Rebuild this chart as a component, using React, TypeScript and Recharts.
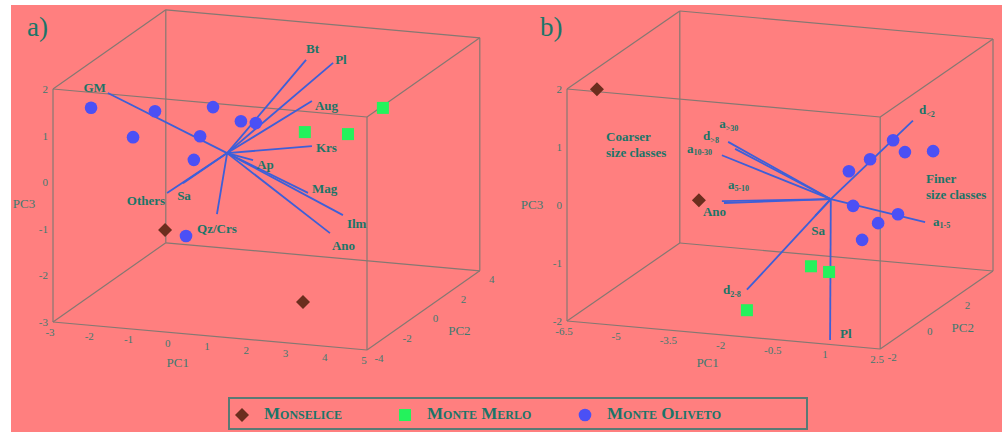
import React from 'react';
import { ScatterChart, Scatter, XAxis, YAxis, ReferenceLine } from 'recharts';

type P3 = { pc1: number; pc2: number; pc3: number };
type Loading = P3 & { name: string; sub?: string };

// a) mineralogical PCA
const monseliceA: P3[] = [
    { pc1: -2.66, pc2: 3, pc3: -2.49 },
    { pc1: 3.01, pc2: -3, pc3: -2.33 },
];
const merloA: P3[] = [
    { pc1: 2.89, pc2: 3, pc3: 0.55 },
    { pc1: 1.62, pc2: 1, pc3: 0.36 },
    { pc1: 2.36, pc2: 2, pc3: 0.16 },
];
const olivetoA: P3[] = [
    { pc1: -2.39, pc2: -3, pc3: 1.43 },
    { pc1: -1.12, pc2: -2, pc3: 1.24 },
    { pc1: -0.36, pc2: 0, pc3: 0.96 },
    { pc1: 0.71, pc2: -1, pc3: 0.95 },
    { pc1: 1.09, pc2: -1, pc3: 0.94 },
    { pc1: -1.32, pc2: -3, pc3: 0.88 },
    { pc1: -0.33, pc2: -1, pc3: 0.55 },
    { pc1: -0.13, pc2: -2, pc3: 0.27 },
    { pc1: -0.33, pc2: -2, pc3: -1.38 },
];
const loadingsA: Loading[] = [
    { name: 'GM', pc1: -3.04, pc2: 0, pc3: 1.06 },
    { name: 'Bt', pc1: 2.01, pc2: 0, pc3: 2.15 },
    { name: 'Pl', pc1: 2.7, pc2: 0, pc3: 2.14 },
    { name: 'Aug', pc1: 2.16, pc2: 0, pc3: 1.28 },
    { name: 'Krs', pc1: 2.16, pc2: 0, pc3: 0.31 },
    { name: 'Ap', pc1: 0.66, pc2: 0, pc3: -0.1 },
    { name: 'Mag', pc1: 2.06, pc2: 0, pc3: -0.7 },
    { name: 'Ilm', pc1: 2.95, pc2: 0, pc3: -1.11 },
    { name: 'Ano', pc1: 2.62, pc2: 0, pc3: -1.52 },
    { name: 'Qz/Crs', pc1: -0.26, pc2: 0, pc3: -1.33 },
    { name: 'Others', pc1: -1.53, pc2: 0, pc3: -0.97 },
    { name: 'Sa', pc1: -1.125, pc2: 0, pc3: -0.73 },
];
const rangeA = { pc1: [-3, 5], pc2: [-4, 4], pc3: [-3, 2] };
const pc1TicksA = [-3, -2, -1, 0, 1, 2, 3, 4, 5];
const pc2TicksA = [-4, -2, 0, 2, 4];
const pc3TicksA = [-3, -2, -1, 0, 1, 2];

// b) grain size PCA
const monseliceB: P3[] = [
    { pc1: -6.18, pc2: -1, pc3: 1.79 },
    { pc1: -3.79, pc2: 0, pc3: -0.22 },
];
const merloB: P3[] = [
    { pc1: -1.11, pc2: 1, pc3: -1.44 },
    { pc1: -0.59, pc2: 1, pc3: -1.51 },
    { pc1: -1.87, pc2: -1, pc3: -1.79 },
];
const olivetoB: P3[] = [
    { pc1: 1.25, pc2: 1, pc3: 0.86 },
    { pc1: 1.05, pc2: 2, pc3: 0.42 },
    { pc1: 1.86, pc2: 2, pc3: 0.48 },
    { pc1: 1.13, pc2: 0, pc3: 0.75 },
    { pc1: 0.52, pc2: 0, pc3: 0.51 },
    { pc1: 0.64, pc2: 0, pc3: -0.08 },
    { pc1: 1.39, pc2: 1, pc3: -0.41 },
    { pc1: 1.36, pc2: 0, pc3: -0.34 },
    { pc1: 1.44, pc2: -1, pc3: -0.4 },
];
const loadingsB: Loading[] = [
    { name: 'd', sub: '<2', pc1: 2.36, pc2: 0, pc3: 1.48 },
    { name: 'a', sub: '>30', pc1: -2.95, pc2: 0, pc3: 0.83 },
    { name: 'd', sub: '>8', pc1: -2.75, pc2: 0, pc3: 0.72 },
    { name: 'a', sub: '10-30', pc1: -3.13, pc2: 0, pc3: 0.59 },
    { name: 'a', sub: '5-10', pc1: -3.13, pc2: 0, pc3: -0.2 },
    { name: 'Ano', pc1: -3.07, pc2: 0, pc3: -0.23 },
    { name: 'a', sub: '1-5', pc1: 2.71, pc2: 0, pc3: -0.25 },
    { name: 'Sa', pc1: -0.45, pc2: 0, pc3: -0.31 },
    { name: 'd', sub: '2-8', pc1: -2.41, pc2: 0, pc3: -1.69 },
    { name: 'Pl', pc1: -0.02, pc2: 0, pc3: -2.43 },
];
const rangeB = { pc1: [-6.5, 2.5], pc2: [-2, 4], pc3: [-2, 2] };
const pc1TicksB = [-6.5, -5, -3.5, -2, -0.5, 1, 2.5];
const pc2TicksB = [-2, 0, 2];
const pc3TicksB = [-2, -1, 0, 1, 2];

// colours
const BG = '#ff7f7f';
const TEAL = '#1b7568';
const TICK = '#3f7a70';
const EDGE = '#857872';
const VECTOR = '#3d5fd8';
const BROWN = '#6b2e1e';
const GREEN = '#24f25c';
const BLUE = '#4b50f5';
const SERIF = '"Liberation Serif", "Times New Roman", serif';

type View = {
    left: number;
    width: number;
    height: number;
    ox: number;
    oy: number;
    e1: [number, number];
    e2: [number, number];
    e3: [number, number];
};

// oblique projection of the 3d box (px per unit along each PC)
const viewA: View = { left: 0, width: 500, height: 432, ox: 227.15, oy: 153.1, e1: [39.25, 3.5], e2: [14.1, -9.9], e3: [0, -46.6] };
const viewB: View = { left: 500, width: 502, height: 432, ox: 330.8, oy: 199.2, e1: [34.8, 3.11], e2: [18.8, -13], e3: [0, -58] };

// label placement, px from the end of each loading vector
const labelPosA: Record<string, [number, number, string]> = {
    GM: [-2, -6, 'end'],
    Bt: [0, -11, 'start'],
    Pl: [2, -3, 'start'],
    Aug: [3, 4, 'start'],
    Krs: [4, 1, 'start'],
    Ap: [4, 4, 'start'],
    Mag: [4, -4, 'start'],
    Ilm: [4, 8, 'start'],
    Ano: [2, 12, 'start'],
    'Qz/Crs': [0, 14, 'middle'],
    Others: [-2, 8, 'end'],
    Sa: [1, 12, 'middle'],
};
const labelPosB: Record<string, [number, number, string]> = {
    'd<2': [6, -11, 'start'],
    'a>30': [-9, -18, 'start'],
    'd>8': [-32, -13, 'start'],
    'a10-30': [-35, -7, 'start'],
    'a5-10': [6, -17, 'start'],
    Ano: [-21, 9, 'start'],
    'a1-5': [8, -1, 'start'],
    Sa: [3, 15, 'middle'],
    'd2-8': [-24, 0, 'start'],
    Pl: [10, -7, 'start'],
};

const project = (v: View, p: P3) => ({
    x: p.pc1 * v.e1[0] + p.pc2 * v.e2[0] + p.pc3 * v.e3[0],
    y: -(p.pc1 * v.e1[1] + p.pc2 * v.e2[1] + p.pc3 * v.e3[1]),
});

const boxEdges = (r: typeof rangeA) => {
    const edges: [P3, P3][] = [];
    const c = (i: number, j: number, k: number): P3 => ({ pc1: r.pc1[i], pc2: r.pc2[j], pc3: r.pc3[k] });
    for (const a of [0, 1]) {
        for (const b of [0, 1]) {
            edges.push([c(0, a, b), c(1, a, b)]);
            edges.push([c(a, 0, b), c(a, 1, b)]);
            edges.push([c(a, b, 0), c(a, b, 1)]);
        }
    }
    return edges;
};

const TextMark = (props: any) => {
    const { cx, cy, payload } = props;
    if (cx == null) return <g />;
    return (
        <text
            x={cx + payload.dx}
            y={cy + payload.dy}
            textAnchor={payload.anchor}
            dominantBaseline="central"
            fontFamily={SERIF}
            fontSize={payload.size}
            fontWeight={payload.bold ? 700 : 400}
            fill={payload.color}
        >
            {payload.text}
            {payload.sub ? (
                <tspan fontSize={8} dy={4}>{payload.sub}</tspan>
            ) : null}
        </text>
    );
};

const Circle = (props: any) => <circle cx={props.cx} cy={props.cy} r={6.3} fill={BLUE} />;
const Square = (props: any) => <rect x={props.cx - 6} y={props.cy - 6} width={12} height={12} fill={GREEN} />;
const Diamond = (props: any) => (
    <polygon
        points={`${props.cx},${props.cy - 7} ${props.cx + 7},${props.cy} ${props.cx},${props.cy + 7} ${props.cx - 7},${props.cy}`}
        fill={BROWN}
    />
);

interface PanelProps {
    view: View;
    range: typeof rangeA;
    monselice: P3[];
    merlo: P3[];
    oliveto: P3[];
    loadings: Loading[];
    labelPos: Record<string, [number, number, string]>;
    ticks: [number[], number[], number[]];
    titles: { at: P3; dx: number; dy: number }[];
}

const Panel: React.FC<PanelProps> = ({ view, range, monselice, merlo, oliveto, loadings, labelPos, ticks, titles }) => {
    const pr = (p: P3) => project(view, p);
    const origin = pr({ pc1: 0, pc2: 0, pc3: 0 });

    const tickText = [
        ...ticks[0].map(t => ({ ...pr({ pc1: t, pc2: range.pc2[0], pc3: range.pc3[0] }), text: String(t), dx: -3, dy: 10, anchor: 'middle', size: 11, color: TICK })),
        ...ticks[1].map(t => ({ ...pr({ pc1: range.pc1[1], pc2: t, pc3: range.pc3[0] }), text: String(t), dx: 12, dy: 8, anchor: 'middle', size: 11, color: TICK })),
        ...ticks[2].map(t => ({ ...pr({ pc1: range.pc1[0], pc2: range.pc2[0], pc3: t }), text: String(t), dx: -5, dy: 0, anchor: 'end', size: 11, color: TICK })),
        ...['PC1', 'PC2', 'PC3'].map((name, i) => ({ ...pr(titles[i].at), text: name, dx: titles[i].dx, dy: titles[i].dy, anchor: 'middle', size: 13, color: TICK })),
    ];

    const loadingText = loadings.map(l => {
        const key = l.name + (l.sub ?? '');
        const [dx, dy, anchor] = labelPos[key];
        return { ...pr(l), text: l.name, sub: l.sub, dx, dy, anchor, size: 13, bold: true, color: TEAL };
    });

    return (
        <div style={{ position: 'absolute', left: view.left, top: 0 }}>
            <ScatterChart width={view.width} height={view.height} margin={{ top: 0, right: 0, bottom: 0, left: 0 }}>
                <XAxis type="number" dataKey="x" domain={[-view.ox, view.width - view.ox]} allowDataOverflow hide />
                <YAxis type="number" dataKey="y" domain={[view.oy - view.height, view.oy]} allowDataOverflow hide />
                {boxEdges(range).map(([a, b], i) => (
                    <ReferenceLine key={'e' + i} segment={[pr(a), pr(b)]} stroke={EDGE} strokeWidth={1.2} ifOverflow="visible" />
                ))}
                {loadings.map((l, i) => (
                    <ReferenceLine key={'l' + i} segment={[origin, pr(l)]} stroke={VECTOR} strokeWidth={1.8} ifOverflow="visible" />
                ))}
                <Scatter data={monselice.map(pr)} shape={Diamond} isAnimationActive={false} />
                <Scatter data={merlo.map(pr)} shape={Square} isAnimationActive={false} />
                <Scatter data={oliveto.map(pr)} shape={Circle} isAnimationActive={false} />
                <Scatter data={tickText} shape={TextMark} isAnimationActive={false} />
                <Scatter data={loadingText} shape={TextMark} isAnimationActive={false} />
            </ScatterChart>
        </div>
    );
};

const LegendItem: React.FC<{ x: number; icon: React.ReactNode; label: string }> = ({ x, icon, label }) => (
    <>
        <svg style={{ position: 'absolute', left: x - 8, top: 8 }} width={16} height={16}>{icon}</svg>
        <span style={{ position: 'absolute', left: x + 22, top: 5, lineHeight: '20px', whiteSpace: 'nowrap' }}>{label}</span>
    </>
);

export default function App() {
    const bold13: React.CSSProperties = { position: 'absolute', fontFamily: SERIF, fontWeight: 700, fontSize: 13, lineHeight: '16px', color: TEAL };
    return (
        <div style={{ position: 'absolute', left: 0, top: 0, width: 1002, height: 432, background: '#fff', overflow: 'hidden' }}>
            <div style={{ position: 'absolute', left: 11, top: 5, right: 0, bottom: 0, background: BG }} />
            <Panel
                view={viewA}
                range={rangeA}
                monselice={monseliceA}
                merlo={merloA}
                oliveto={olivetoA}
                loadings={loadingsA}
                labelPos={labelPosA}
                ticks={[pc1TicksA, pc2TicksA, pc3TicksA]}
                titles={[
                    { at: { pc1: 0, pc2: -4, pc3: -3 }, dx: 7, dy: 30 },
                    { at: { pc1: 5, pc2: 0, pc3: -3 }, dx: 36, dy: 20 },
                    { at: { pc1: -3, pc2: -4, pc3: -0.5 }, dx: -29, dy: -2 },
                ]}
            />
            <Panel
                view={viewB}
                range={rangeB}
                monselice={monseliceB}
                merlo={merloB}
                oliveto={olivetoB}
                loadings={loadingsB}
                labelPos={labelPosB}
                ticks={[pc1TicksB, pc2TicksB, pc3TicksB]}
                titles={[
                    { at: { pc1: -2, pc2: -2, pc3: -2 }, dx: -16, dy: 28 },
                    { at: { pc1: 2.5, pc2: 0, pc3: -2 }, dx: 45, dy: 5 },
                    { at: { pc1: -6.5, pc2: -2, pc3: 0 }, dx: -35, dy: 0 },
                ]}
            />
            <div style={{ position: 'absolute', left: 27, top: 14, fontFamily: SERIF, fontSize: 27, lineHeight: '27px', color: TEAL }}>a)</div>
            <div style={{ position: 'absolute', left: 540, top: 14, fontFamily: SERIF, fontSize: 27, lineHeight: '27px', color: TEAL }}>b)</div>
            <div style={{ ...bold13, left: 606, top: 129 }}>Coarser<br />size classes</div>
            <div style={{ ...bold13, left: 926, top: 171 }}>Finer<br />size classes</div>
            <div
                style={{
                    position: 'absolute',
                    left: 228,
                    top: 397,
                    width: 580,
                    height: 33,
                    boxSizing: 'border-box',
                    border: '2px solid #5a7a74',
                    fontFamily: SERIF,
                    fontWeight: 700,
                    fontVariant: 'small-caps',
                    fontSize: 17,
                    color: TEAL,
                }}
            >
                <LegendItem x={12} label="Monselice" icon={<polygon points="8,1 15,8 8,15 1,8" fill={BROWN} />} />
                <LegendItem x={175} label="Monte Merlo" icon={<rect x={2} y={2} width={12} height={12} fill={GREEN} />} />
                <LegendItem x={355} label="Monte Oliveto" icon={<circle cx={8} cy={8} r={6.3} fill={BLUE} />} />
            </div>
        </div>
    );
}
